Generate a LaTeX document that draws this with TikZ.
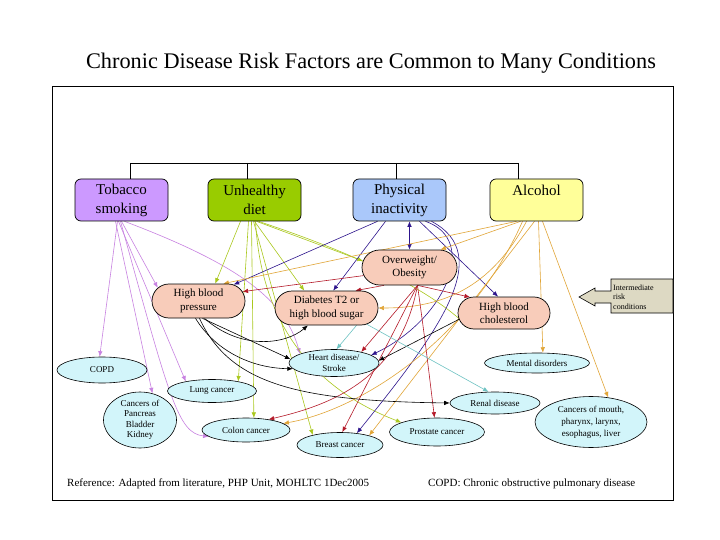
\documentclass[tikz,border=0pt]{standalone}
\usepackage{fontspec}
\setmainfont{Liberation Serif}
\usetikzlibrary{arrows.meta,shapes.geometric,shapes.misc}
\definecolor{ctob}{RGB}{204,153,255}
\definecolor{cdiet}{RGB}{153,204,0}
\definecolor{cphys}{RGB}{170,200,250}
\definecolor{calc}{RGB}{255,255,153}
\definecolor{cmid}{RGB}{248,204,186}
\definecolor{cell}{RGB}{210,245,250}
\definecolor{ccall}{RGB}{221,217,195}
\definecolor{atob}{RGB}{200,130,225}
\definecolor{adiet}{RGB}{170,200,30}
\definecolor{aphys}{RGB}{45,20,140}
\definecolor{aalc}{RGB}{225,165,55}
\definecolor{aow}{RGB}{180,25,40}
\definecolor{adiab}{RGB}{110,195,195}
\pgfdeclarelayer{bg}
\pgfsetlayers{bg,main}
\begin{document}
\begin{tikzpicture}[x=1pt,y=-1pt,
  topbox/.style={draw, line width=0.7pt, rounded corners=6pt, minimum width=93pt, minimum height=42pt, align=center, inner sep=0pt, font=\fontsize{15}{19}\selectfont},
  midbox/.style={rounded rectangle, draw, line width=0.7pt, fill=cmid, align=center, inner sep=0pt, font=\fontsize{11}{13.5}\selectfont},
  ell/.style={ellipse, draw, line width=0.6pt, fill=cell, align=center, inner sep=0pt, font=\fontsize{9}{11}\selectfont},
  arr/.style={-{Latex[length=5.5pt,width=4.5pt]}, line width=0.6pt},
  darr/.style={{Latex[length=5.5pt,width=4.5pt]}-{Latex[length=5.5pt,width=4.5pt]}, line width=0.6pt},
  txt/.style={inner sep=0pt}
]
\begin{pgfonlayer}{bg}
\fill[white] (0,0) rectangle (720,540);
\end{pgfonlayer}
\useasboundingbox (0,0) rectangle (720,540);

% title and frame
\node[txt, font=\fontsize{22.3}{25}\selectfont] (title) at (371,63) {Chronic Disease Risk Factors are Common to Many Conditions};
\draw[line width=0.8pt] (52,86) rectangle (673,500);

% risk factors
\node[topbox, fill=ctob] (tob) at (121.5,200) {Tobacco\\smoking};
\node[topbox, fill=cdiet] (diet) at (254.5,200) {Unhealthy\\diet};
\node[topbox, fill=cphys] (phys) at (399.5,200) {Physical\\inactivity};
\node[topbox, fill=calc] (alc) at (536.5,200) {Alcohol\\\mbox{}};

% bus
\draw[line width=0.7pt] (130,163) -- (518,163);
\draw[line width=0.7pt] (130,163) -- (130,0 |- tob.north);
\draw[line width=0.7pt] (247,163) -- (247,0 |- diet.north);
\draw[line width=0.7pt] (396,163) -- (396,0 |- phys.north);
\draw[line width=0.7pt] (518,163) -- (518,0 |- alc.north);

% intermediate conditions
\node[midbox, minimum width=93pt, minimum height=34pt] (hbp) at (198.5,301) {High blood\\pressure};
\node[midbox, minimum width=103pt, minimum height=34pt] (diab) at (326.5,308) {Diabetes T2 or\\high blood sugar};
\node[midbox, minimum width=95pt, minimum height=35pt] (ow) at (409.5,267.5) {Overweight/\\Obesity};
\node[midbox, minimum width=92pt, minimum height=32pt] (hbc) at (504,313) {High blood\\cholesterol};

% conditions
\node[ell, minimum width=90pt, minimum height=26pt] (copd) at (102,370) {COPD};
\node[ell, minimum width=89pt, minimum height=23pt] (lung) at (212,391) {Lung cancer};
\node[ell, minimum width=73pt, minimum height=56pt, inner sep=-4pt, font=\fontsize{9}{10.5}\selectfont] (panc) at (140,420) {Cancers of\\Pancreas\\Bladder\\Kidney};
\node[ell, minimum width=88pt, minimum height=24pt] (colon) at (246,430) {Colon cancer};
\node[ell, minimum width=90pt, minimum height=27pt, inner sep=-2pt] (heart) at (334,363) {Heart disease/\\Stroke};
\node[ell, minimum width=86pt, minimum height=25pt] (breast) at (340,445) {Breast cancer};
\node[ell, minimum width=95pt, minimum height=28pt] (prostate) at (437,432) {Prostate cancer};
\node[ell, minimum width=90pt, minimum height=22pt] (renal) at (495,403) {Renal disease};
\node[ell, minimum width=105pt, minimum height=20pt] (mental) at (537,363) {Mental disorders};
\node[ell, minimum width=112pt, minimum height=51pt, inner sep=-3pt, font=\fontsize{9}{12}\selectfont] (mouth) at (591,422) {Cancers of mouth,\\pharynx, larynx,\\esophagus, liver};

% callout
\draw[fill=ccall, line width=0.6pt] (611,279) -- (673,279) -- (673,313) -- (611,313) -- (611,303) -- (595,303) -- (595,306) -- (579,297) -- (595,288) -- (595,291) -- (611,291) -- cycle;
\node[txt, anchor=west, align=left, font=\fontsize{8}{9.5}\selectfont] (callout) at (613,297) {Intermediate\\risk\\conditions};

% footer
\node[txt, anchor=west, font=\fontsize{11}{13}\selectfont] (ref) at (67,484) {Reference: Adapted from literature, PHP Unit, MOHLTC 1Dec2005};
\node[txt, anchor=west, font=\fontsize{11}{13}\selectfont] (note) at (428,484) {COPD: Chronic obstructive pulmonary disease};

\begin{pgfonlayer}{bg}
% tobacco
\draw[arr, atob] ([xshift=-4pt]tob.south) -- (copd.100);
\draw[arr, atob] ([xshift=0pt]tob.south) -- (hbp.162);
\draw[arr, atob] ([xshift=-3pt]tob.south) -- (lung.160);
\draw[arr, atob] ([xshift=-6pt]tob.south) -- (panc.65);
\draw[arr, atob] ([xshift=-1pt]tob.south) .. controls (170,400) and (178,433) .. (colon.190);
\draw[arr, atob] ([xshift=3pt]tob.south) .. controls (240,265) and (285,300) .. (heart.165);
% diet
\draw[arr, adiet] ([xshift=-14pt]diet.south) -- (hbp.46);
\draw[arr, adiet] ([xshift=0pt]diet.south) -- (diab.142);
\draw[arr, adiet] ([xshift=2pt]diet.south) -- (ow.172);
\draw[arr, adiet] ([xshift=-6pt]diet.south) -- (lung.20);
\draw[arr, adiet] ([xshift=-3pt]diet.south) -- (colon.57);
\draw[arr, adiet] ([xshift=-1pt]diet.south) -- (breast.160);
\draw[arr, adiet] ([xshift=1pt]diet.south) .. controls (262,340) and (330,395) .. (prostate.165);
\draw[arr, adiet] ([xshift=4pt]diet.south) .. controls (360,255) and (430,290) .. (hbc.205);
% physical inactivity
\draw[arr, aphys] ([xshift=-22pt]phys.south) -- (hbp.25);
\draw[arr, aphys] ([xshift=-14pt]phys.south) -- (diab.69);
\draw[darr, aphys] ([xshift=10pt]phys.south) -- (ow.north);
\draw[arr, aphys] ([xshift=20pt]phys.south) -- (hbc.110);
\draw[arr, aphys] ([xshift=26pt]phys.south) .. controls (480,240) and (445,320) .. (heart.12);
\draw[arr, aphys] ([xshift=32pt]phys.south) .. controls (495,255) and (440,330) .. (breast.35);
% alcohol
\draw[arr, aalc] ([xshift=-20pt]alc.south) -- (hbp.35);
\draw[arr, aalc] ([xshift=-16pt]alc.south) -- (ow.30);
\draw[arr, aalc] ([xshift=-10pt]alc.south) .. controls (490,290) and (440,308) .. (diab.east);
\draw[arr, aalc] ([xshift=-14pt]alc.south) .. controls (470,340) and (360,410) .. (colon.10);
\draw[arr, aalc] ([xshift=-2pt]alc.south) -- (breast.18);
\draw[arr, aalc] ([xshift=2pt]alc.south) -- (mental.60);
\draw[arr, aalc] ([xshift=6pt]alc.south) -- (mouth.55);
% overweight
\draw[arr, aow] (ow.190) -- (hbp.12);
\draw[arr, aow] (ow.215) -- (diab.31);
\draw[arr, aow] ([xshift=8pt]ow.south) -- (hbc.155);
\draw[arr, aow] ([xshift=8pt]ow.south) -- (heart.22);
\draw[arr, aow] ([xshift=8pt]ow.south) .. controls (425,340) .. (prostate.100);
\draw[arr, aow] ([xshift=8pt]ow.south) -- (breast.80);
\draw[arr, aow] ([xshift=8pt]ow.south) .. controls (400,380) and (330,405) .. (colon.25);
% high blood pressure
\draw[arr] ([xshift=6pt]hbp.south) .. controls (240,350) and (285,345) .. (diab.-137);
\draw[arr] ([xshift=4pt]hbp.south) -- (heart.175);
\draw[arr] ([xshift=-3pt]hbp.south) .. controls (215,350) and (250,368) .. (heart.188);
\draw[arr] ([xshift=1pt]hbp.south) .. controls (230,385) and (300,401) .. (renal.west);
% cholesterol
\draw[arr] (hbc.188) -- (heart.3);
% diabetes
\draw[arr, adiab] (diab.-30) -- (heart.80);
\draw[arr, adiab] (diab.-22) -- (renal.120);
\end{pgfonlayer}
\end{tikzpicture}
\end{document}
